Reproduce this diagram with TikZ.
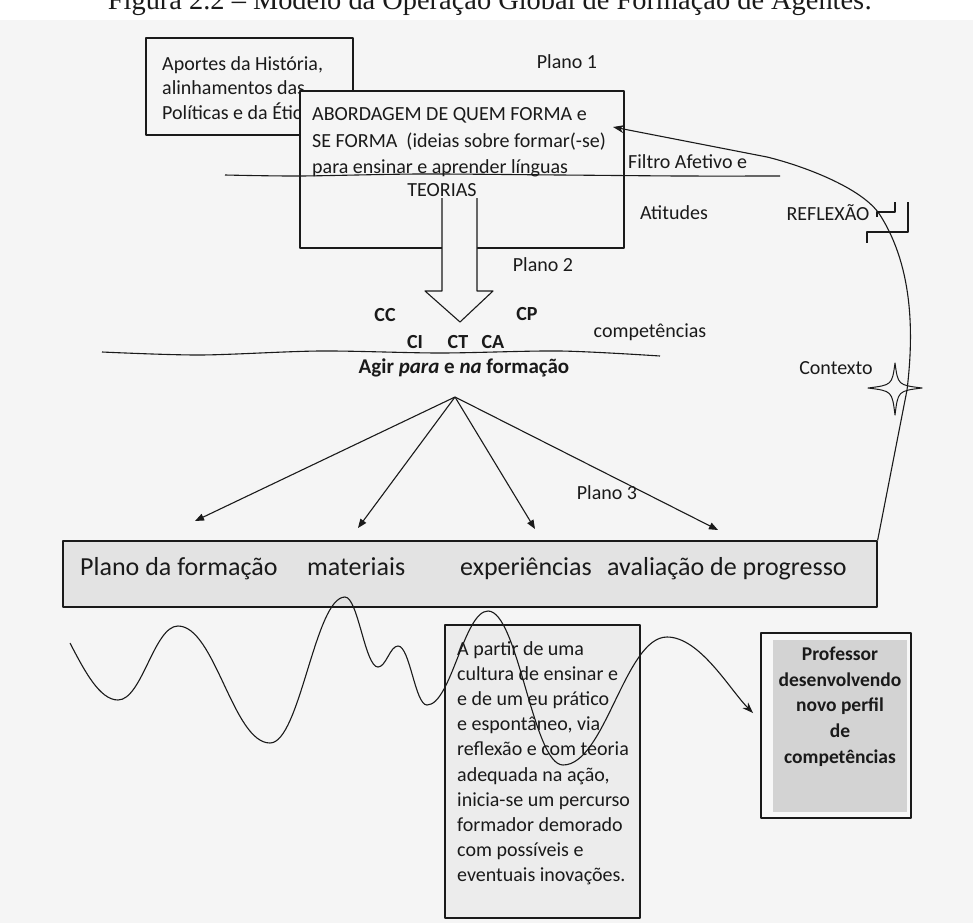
\documentclass[tikz,border=0pt]{standalone}
\usepackage{fontspec}
\setmainfont{Carlito}
\newfontfamily\titlefont{Liberation Serif}
\usetikzlibrary{arrows.meta}
\definecolor{bg}{HTML}{F5F5F5}
\definecolor{boxgray}{HTML}{E3E3E3}
\definecolor{midgray}{HTML}{ECECEC}
\definecolor{profgray}{HTML}{D3D3D3}
\definecolor{profedge}{HTML}{F8F8F8}
\definecolor{ink}{HTML}{1A1A1A}
\begin{document}
\begin{tikzpicture}[x=1pt, y=-1pt, line join=round,
  every node/.style={inner sep=0pt, text=ink},
  lbl/.style={font=\fontsize{20}{24}\selectfont},
  lblb/.style={font=\fontsize{20}{24}\selectfont\bfseries},
  big/.style={font=\fontsize{26}{30}\selectfont, anchor=base west},
  frame/.style={draw=ink, line width=1.2pt},
  ln/.style={draw=ink, line width=1.1pt},
  fan/.style={ln, -{Triangle[length=9pt,width=7pt]}},
  flow/.style={ln, -{Stealth[length=11pt,width=8pt]}}]
\useasboundingbox (0,0) rectangle (973,923);
\clip (0,0) rectangle (973,923);
\fill[bg] (0,20) rectangle (973,923);

% title (cut at the top edge, as in the reference)
\node[anchor=base, font=\titlefont\fontsize{28.4}{31}\selectfont] (title) at (490,10) {Figura 2.2 – Modelo da Operação Global de Formação de Agentes:};

% Aportes box
\node[frame, fill=bg, minimum width=207pt, minimum height=97pt] (aportes) at (249.5,86.5) {};
\node[anchor=north west, align=left, font=\fontsize{20}{24.5}\selectfont] (aportestxt) at (162,56) {Aportes da História,\\alinhamentos das\\Políticas e da Étic};

% main box
\node[frame, fill=bg, minimum width=324pt, minimum height=157pt] (abord) at (462,169.5) {};
\node[anchor=north west, align=left, font=\fontsize{20}{26.5}\selectfont] (abordtxt) at (312,107.5) {ABORDAGEM DE QUEM FORMA e\\SE FORMA\ \ (ideias sobre formar(-se)\\para ensinar e aprender línguas};
\node[lbl] (teorias) at (442,190) {TEORIAS};

% filter line
\draw[ln] plot[smooth] coordinates {(225,175) (300,176) (420,174) (560,175) (680,176) (780,176)};
\node[lbl, anchor=west] (filtro) at (628,162) {Filtro Afetivo e};
\node[lbl] (plano1) at (567,62) {Plano 1};
\node[lbl] (atitudes) at (674,213) {Atitudes};
\node[lbl] (reflexao) at (828,213) {REFLEXÃO};
\node[lbl] (plano2) at (543,265) {Plano 2};

% bracket marks
\draw[ln] (877,217) -- (877,212) -- (895,212) -- (895,202);
\draw[ln] (908,202) -- (908,232) -- (867,232) -- (867,243);

% hollow arrow
\filldraw[ln, fill=bg] (442,198) -- (442,291) -- (425,291) -- (460,322) -- (493,291) -- (477,291) -- (477,198);

% competences
\node[lblb] (cc) at (385,315) {CC};
\node[lblb] (cp) at (527,314) {CP};
\node[lblb] (ci) at (415,342) {CI};
\node[lblb] (ct) at (458,342) {CT};
\node[lblb] (ca) at (493,342) {CA};
\node[lbl] (comp) at (650,332) {competências};
\draw[ln] plot[smooth] coordinates {(102,352) (200,355) (320,351) (440,353) (560,351) (660,356)};
\node[font=\fontsize{21}{25}\selectfont\bfseries] (agir) at (464,368) {Agir \textit{para} e \textit{na} formação};
\node[lbl] (contexto) at (836,368) {Contexto};
\node[lbl] (plano3) at (607,493) {Plano 3};

% fan of arrows
\coordinate (apex) at (455,397);
\coordinate (t1) at (195,521);
\coordinate (t2) at (358,528);
\coordinate (t3) at (535,529);
\coordinate (t4) at (718,530);
\draw[fan] (apex) -- (t1);
\draw[fan] (apex) -- (t2);
\draw[fan] (apex) -- (t3);
\draw[fan] (apex) -- (t4);

% bottom box
\node[frame, fill=boxgray, minimum width=814pt, minimum height=66pt] (plano) at (470,574) {};
\node[big] (pf) at (80,575) {Plano da formação};
\node[big] (mat) at (307,575) {materiais};
\node[big] (exp) at (460,575) {experiências};
\node[big] (aval) at (607,575) {avaliação de progresso};

% middle text box
\node[frame, fill=midgray, minimum width=195pt, minimum height=293pt] (percurso) at (542.5,771.5) {};
\node[anchor=north west, align=left, font=\fontsize{20}{25.2}\selectfont] (percursotxt) at (457,641) {A partir de uma\\cultura de ensinar e\\e de um eu prático\\e espontâneo, via\\reflexão e com teoria\\adequada na ação,\\inicia-se um percurso\\formador demorado\\com possíveis e\\eventuais inovações.};

% professor box
\node[frame, fill=profedge, minimum width=150pt, minimum height=185pt] (prof) at (836,725.5) {};
\node[fill=profgray, minimum width=134pt, minimum height=172pt] (profbg) at (840,726) {};
\node[anchor=north, align=center, font=\fontsize{19.5}{25.75}\selectfont\bfseries] (proftxt) at (840,646.5) {Professor\\desenvolvendo\\novo perfil\\de\\competências};

% wave
\coordinate (wstart) at (70,643);
\coordinate (wend) at (753,713);
\draw[flow] (wstart) .. controls (85,672) and (100,700) .. (118,700)
  .. controls (142,700) and (154,626) .. (178,626)
  .. controls (215,626) and (233,743) .. (270,743)
  .. controls (300,743) and (315,597) .. (345,597)
  .. controls (358,597) and (365,667) .. (378,667)
  .. controls (386,667) and (390,646) .. (398,646)
  .. controls (410,646) and (415,705) .. (427,705)
  .. controls (451,705) and (464,611) .. (488,611)
  .. controls (518,611) and (533,765) .. (563,765)
  .. controls (605,765) and (625,637) .. (667,637)
  .. controls (700,637) and (730,690) .. (wend);

% reflection curve
\coordinate (rtip) at (613,127);
\draw[flow] (plano.north east) -- (907,390) .. controls (913,340) and (915,270) .. (880,215) .. controls (862,187) and (800,165) .. (767,157) -- (rtip);

% star
\draw[ln, line width=1pt] (895,363) .. controls (898,385) .. (922,388) .. controls (898,391) .. (895,415) .. controls (892,391) .. (868,388) .. controls (892,385) .. (895,363) -- cycle;
\end{tikzpicture}
\end{document}
